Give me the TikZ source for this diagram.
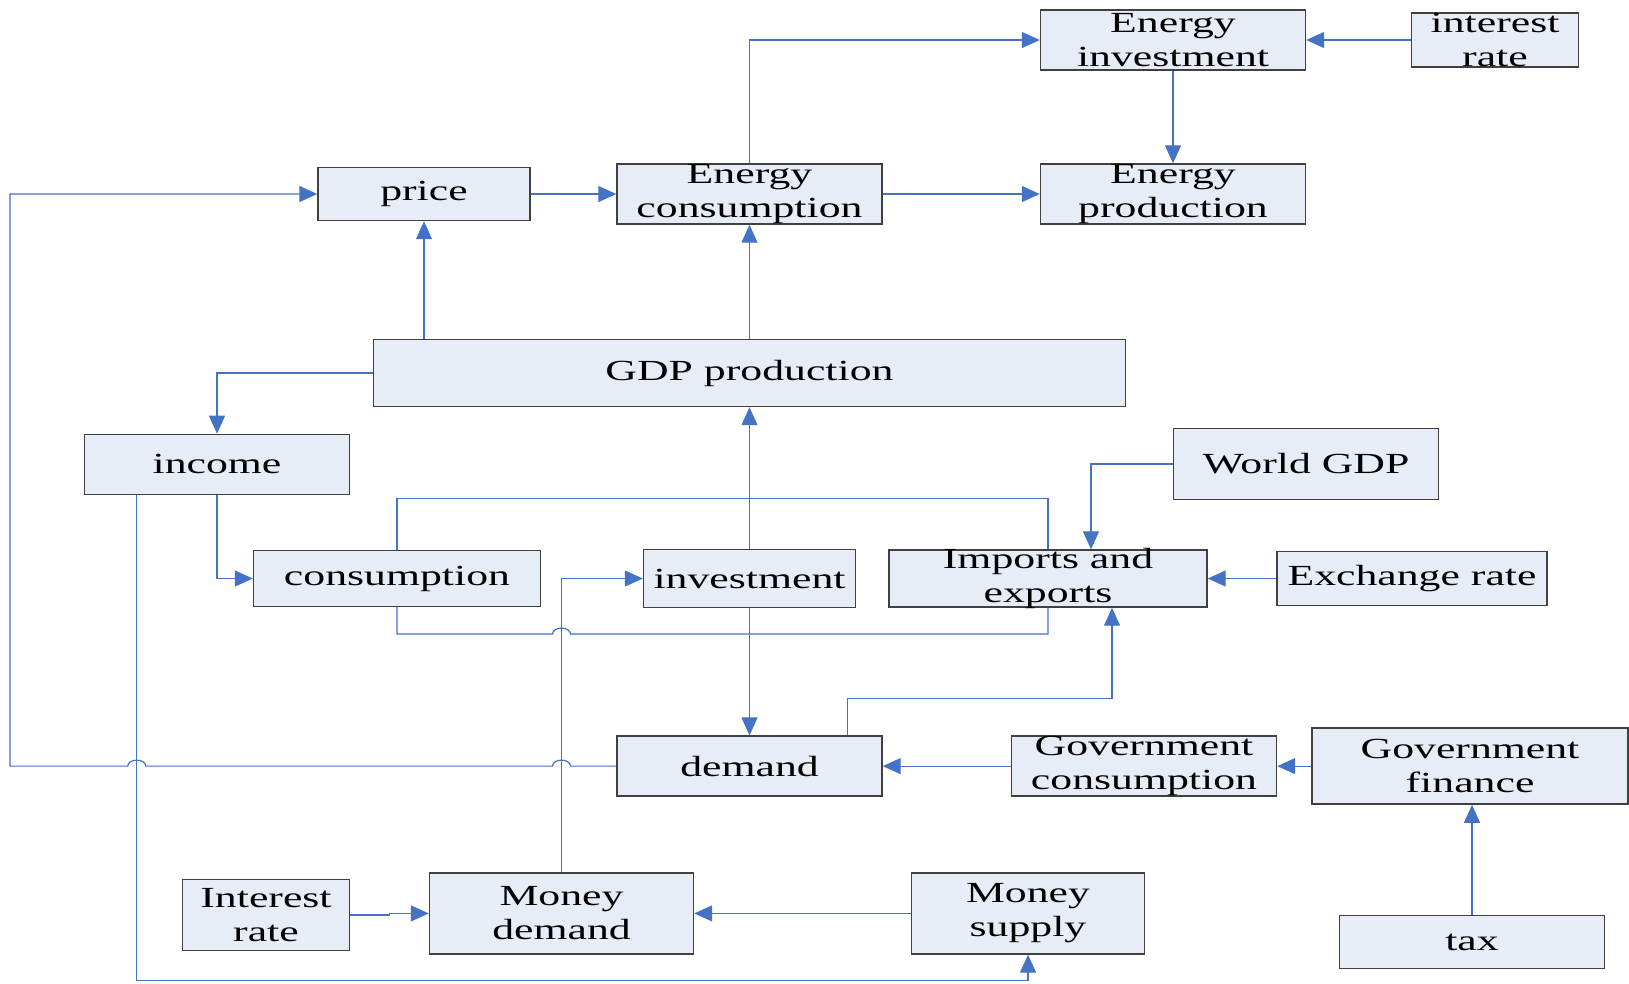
\documentclass[tikz,border=0pt]{standalone}
\usepackage{fontspec}
\setmainfont{Liberation Serif}[FakeStretch=1.5]
\usetikzlibrary{calc}
\usetikzlibrary{arrows.meta}
\definecolor{boxfill}{RGB}{231,237,247}
\definecolor{linkblue}{RGB}{68,114,196}

\begin{document}
\begin{tikzpicture}
    \tikzstyle{block}=[draw=black!75, line width=0.4pt, fill=boxfill, inner xsep=0pt, inner ysep=-0.1cm, align=center, font=\fontsize{8.3}{9.6}\selectfont]
    \tikzstyle{link}=[draw=linkblue, line width=0.35pt, -{Triangle[length=0.18cm, width=0.16cm]}]

    \useasboundingbox (0, 0) rectangle (16.29, -9.83);

    % Energy sector
    \node[block, minimum width=2.65cm, minimum height=0.60cm] (einv) at (11.73, -0.40) {Energy\\investment};
    \node[block, minimum width=1.67cm, minimum height=0.54cm] (irate) at (14.95, -0.40) {interest\\rate};
    \node[block, minimum width=2.12cm, minimum height=0.53cm] (price) at (4.24, -1.94) {price};
    \node[block, minimum width=2.65cm, minimum height=0.60cm] (econs) at (7.495, -1.94) {Energy\\consumption};
    \node[block, minimum width=2.65cm, minimum height=0.60cm] (eprod) at (11.73, -1.94) {Energy\\production};

    % GDP and its parts
    \node[block, minimum width=7.52cm, minimum height=0.67cm] (gdp) at (7.495, -3.73) {GDP production};
    \node[block, minimum width=2.65cm, minimum height=0.60cm] (income) at (2.17, -4.644) {income};
    \node[block, minimum width=2.65cm, minimum height=0.71cm] (world) at (13.06, -4.64) {World GDP};
    \node[block, minimum width=2.87cm, minimum height=0.56cm] (cons) at (3.97, -5.785) {consumption};
    \node[block, minimum width=2.12cm, minimum height=0.58cm] (inv) at (7.495, -5.785) {investment};
    \node[block, minimum width=3.18cm, minimum height=0.57cm] (trade) at (10.48, -5.785) {Imports and\\exports};
    \node[block, minimum width=2.70cm, minimum height=0.54cm] (exch) at (14.12, -5.785) {Exchange rate};

    % Demand and government
    \node[block, minimum width=2.65cm, minimum height=0.60cm] (demand) at (7.495, -7.661) {demand};
    \node[block, minimum width=2.65cm, minimum height=0.60cm] (gcons) at (11.44, -7.661) {Government\\consumption};
    \node[block, minimum width=3.16cm, minimum height=0.76cm] (gfin) at (14.70, -7.661) {Government\\finance};
    \node[block, minimum width=2.65cm, minimum height=0.53cm] (tax) at (14.72, -9.419) {tax};

    % Money market
    \node[block, minimum width=1.67cm, minimum height=0.71cm] (irate2) at (2.66, -9.15) {Interest\\rate};
    \node[block, minimum width=2.64cm, minimum height=0.81cm] (mdem) at (5.615, -9.134) {Money\\demand};
    \node[block, minimum width=2.33cm, minimum height=0.81cm] (msup) at (10.28, -9.134) {Money\\supply};

    % Energy flows
    \draw[link] (price.east) -- (econs.west);
    \draw[link] (econs.east) -- (eprod.west);
    \draw[link] (econs.north) |- (einv.west);
    \draw[link] (irate.west) -- (einv.east);
    \draw[link] (einv.south) -- (eprod.north);

    % GDP flows
    \draw[link] (price.south |- gdp.north) -- (price.south);
    \draw[link] (gdp.north) -- (econs.south);
    \draw[link] (gdp.west) -| (income.north);
    \draw[link] (income.south) |- (cons.west);
    \draw[link] (inv.north) -- (gdp.south);
    \draw[link] (inv.south) -- (demand.north);

    % Consumption and trade
    \draw[link, -] (cons.north) -- ++(0, 0.51) -| (trade.north);
    \draw[link, -] (cons.south) -- ++(0, -0.268) coordinate (cb)
      -- ($(cb -| mdem.north) + (-0.09, 0)$)
      arc[start angle=180, end angle=0, x radius=0.09cm, y radius=0.06cm]
      -| (trade.south);
    \draw[link] (world.west) -| ($(trade.north) + (0.43, 0)$);
    \draw[link] (exch.west) -- (trade.east);
    \draw[link] ($(demand.north) + (0.98, 0)$) -- ++(0, 0.367) -| ($(trade.south) + (0.64, 0)$);

    % Government
    \draw[link] (gcons.west) -- (demand.east);
    \draw[link] (gfin.west) -- (gcons.east);
    \draw[link] (tax.north) -- (tax.north |- gfin.south);

    % Money market
    \draw[link] (irate2.east) -| ($(irate2.east)!0.5!(mdem.west)$) |- (mdem.west);
    \draw[link] (msup.west) -- (mdem.east);
    \draw[link] (mdem.north) |- (inv.west);

    % Income to money supply
    \coordinate (inc) at ($(income.south west) + (0.53, 0)$);
    \draw[link] (inc) -- ++(0, -4.857) -| (msup.south);

    % Demand back to price, hopping over the verticals
    \coordinate (farleft) at (0.10, 0);
    \draw[link] (demand.west)
      -- ($(mdem.north |- demand.west) + (0.09, 0)$)
      arc[start angle=0, end angle=180, x radius=0.09cm, y radius=0.06cm]
      -- ($(inc |- demand.west) + (0.09, 0)$)
      arc[start angle=0, end angle=180, x radius=0.09cm, y radius=0.06cm]
      -- (farleft |- demand.west) |- (price.west);
\end{tikzpicture}
\end{document}
